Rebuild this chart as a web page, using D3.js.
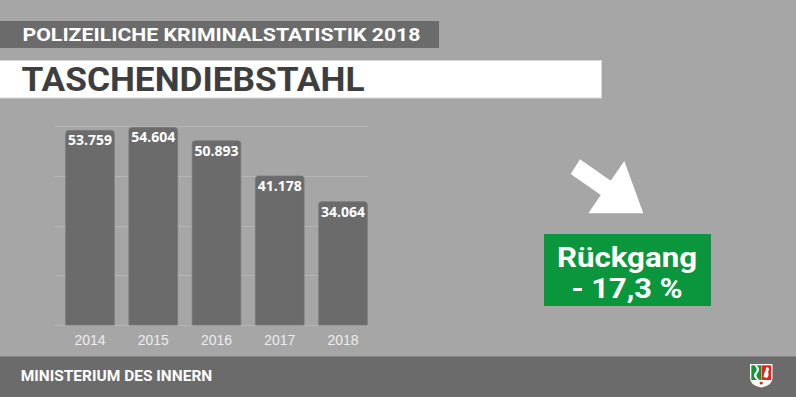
<!DOCTYPE html>
<html>
<head>
<meta charset="utf-8">
<script src="https://cdn.jsdelivr.net/npm/d3@7"></script>
<style>
  html, body { margin: 0; padding: 0; background: #a6a6a6; }
  svg { display: block; }
</style>
</head>
<body>
<div id="chart"></div>
<script>
const width = 796;
const height = 397;

// data
const years = ["2014", "2015", "2016", "2017", "2018"];
const cases = [53759, 54604, 50893, 41178, 34064];
const gridTicks = [0, 13750, 27500, 41250, 55000];

const subtitle = "POLIZEILICHE KRIMINALSTATISTIK 2018";
const title = "TASCHENDIEBSTAHL";
const footer = "MINISTERIUM DES INNERN";
const changeLines = ["Rückgang", "- 17,3 %"];

const fmt = d3.formatLocale({ decimal: ",", thousands: ".", grouping: [3], currency: ["", "€"] }).format(",");

const svg = d3.select("#chart")
    .append("svg")
    .attr("width", width)
    .attr("height", height);

svg.append("rect")
    .attr("width", width)
    .attr("height", height)
    .attr("fill", "#a6a6a6");

// header boxes
svg.append("rect")
    .attr("x", 0).attr("y", 21)
    .attr("width", 439).attr("height", 27)
    .attr("fill", "#6b6b6b");

svg.append("text")
    .attr("x", 22.5).attr("y", 40.7)
    .attr("font-family", "Roboto, sans-serif")
    .attr("font-weight", "bold")
    .attr("font-size", 18.5)
    .attr("fill", "#ffffff")
    .attr("textLength", 398)
    .attr("lengthAdjust", "spacingAndGlyphs")
    .text(subtitle);

svg.append("rect")
    .attr("x", -1).attr("y", 60.5)
    .attr("width", 602.5).attr("height", 37.5)
    .attr("fill", "#ffffff")
    .attr("stroke", "#d8d8d8")
    .attr("stroke-width", 1);

svg.append("text")
    .attr("x", 21.5).attr("y", 90.7)
    .attr("font-family", "Roboto, sans-serif")
    .attr("font-weight", "bold")
    .attr("font-size", 33.5)
    .attr("fill", "#3e3e3e")
    .attr("textLength", 343)
    .attr("lengthAdjust", "spacingAndGlyphs")
    .text(title);

// scales
const x = d3.scaleBand()
    .domain(years)
    .range([58.35, 374.65])
    .paddingInner(0.232)
    .paddingOuter(0.116);

const y = d3.scaleLinear()
    .domain([0, 55000])
    .range([325, 126]);

// gridlines
svg.append("g")
    .selectAll("line")
    .data(gridTicks)
    .enter()
    .append("line")
    .attr("x1", 55)
    .attr("x2", 368)
    .attr("y1", d => Math.round(y(d)) + 0.5)
    .attr("y2", d => Math.round(y(d)) + 0.5)
    .attr("stroke", "#b5b5b5")
    .attr("stroke-width", 1);

// bars with rounded top corners
const r = 3;
const barPath = (x0, y0, w, y1) =>
    `M${x0},${y1} V${y0 + r} Q${x0},${y0} ${x0 + r},${y0} H${x0 + w - r} Q${x0 + w},${y0} ${x0 + w},${y0 + r} V${y1} Z`;

const bars = svg.append("g");
bars.selectAll("path")
    .data(years)
    .enter()
    .append("path")
    .attr("d", (d, i) => barPath(x(d), y(cases[i]), x.bandwidth(), y(0)))
    .attr("fill", "#6b6b6b")
    .attr("stroke", "#767676")
    .attr("stroke-width", 0.8);

bars.selectAll("text")
    .data(years)
    .enter()
    .append("text")
    .attr("x", d => x(d) + x.bandwidth() / 2)
    .attr("y", (d, i) => y(cases[i]) + 15)
    .attr("text-anchor", "middle")
    .attr("font-family", "'Open Sans', sans-serif")
    .attr("font-weight", "bold")
    .attr("font-size", 14)
    .attr("fill", "#ffffff")
    .text((d, i) => fmt(cases[i]));

// x axis labels
const xAxis = svg.append("g")
    .attr("transform", "translate(0,332)")
    .call(d3.axisBottom(x).tickSize(0).tickPadding(0));
xAxis.select(".domain").remove();
xAxis.selectAll("text")
    .attr("dy", "0.95em")
    .attr("y", 0)
    .attr("font-family", "'Liberation Sans', Arial, sans-serif")
    .attr("font-size", 14)
    .attr("fill", "#ececec");

// arrow
svg.append("path")
    .attr("d", "M580,159.3 L610.7,180.8 L624.3,161 L643.3,213.3 L588.3,213.3 L600.8,195.1 L570.7,174 Z")
    .attr("fill", "#ffffff");

// change box
svg.append("rect")
    .attr("x", 544).attr("y", 234)
    .attr("width", 167).attr("height", 72)
    .attr("fill", "#0a963c");

svg.selectAll(".change")
    .data(changeLines)
    .enter()
    .append("text")
    .attr("class", "change")
    .attr("x", 627)
    .attr("y", (d, i) => i === 0 ? 266.5 : 297.5)
    .attr("text-anchor", "middle")
    .attr("font-family", "Roboto, sans-serif")
    .attr("font-weight", "bold")
    .attr("font-size", 27)
    .attr("fill", "#ffffff")
    .attr("textLength", (d, i) => i === 0 ? 140 : 111)
    .attr("lengthAdjust", "spacingAndGlyphs")
    .text(d => d);

// footer
svg.append("rect")
    .attr("x", 0).attr("y", 356)
    .attr("width", width).attr("height", height - 356)
    .attr("fill", "#6b6b6b");
svg.append("line")
    .attr("x1", 0).attr("x2", width)
    .attr("y1", 356.5).attr("y2", 356.5)
    .attr("stroke", "#858585");

svg.append("text")
    .attr("x", 20.7).attr("y", 380.7)
    .attr("font-family", "Roboto, sans-serif")
    .attr("font-weight", "bold")
    .attr("font-size", 15)
    .attr("fill", "#ffffff")
    .attr("textLength", 191.6)
    .attr("lengthAdjust", "spacingAndGlyphs")
    .text(footer);

// coat of arms (simplified)
const logo = svg.append("g").attr("transform", "translate(750,364)");
logo.append("path")
    .attr("d", "M0,0 H22.5 V14 Q22.5,21.5 11.25,23.5 Q0,21.5 0,14 Z")
    .attr("fill", "#ffffff");
logo.append("path")
    .attr("d", "M1.3,1.3 H11 V16 H1.3 Z")
    .attr("fill", "#1a8f3a");
logo.append("path")
    .attr("d", "M11.5,1.3 H21.2 V16 H11.5 Z")
    .attr("fill", "#e2231a");
logo.append("path")
    .attr("d", "M4,1.3 Q9,5 5,9 Q2,12 7,16 L9.5,16 Q4.5,12 7.5,9 Q11,5 6.5,1.3 Z")
    .attr("fill", "#ffffff");
logo.append("path")
    .attr("d", "M13.5,13 Q14,8 16,6 Q15,3.5 17.5,3 Q19.5,4 19,6 Q17.5,7 18.5,9.5 Q19,12.5 17,14 Z")
    .attr("fill", "#ffffff");
logo.append("circle")
    .attr("cx", 11.25).attr("cy", 19)
    .attr("r", 1.6)
    .attr("fill", "#e2231a");
</script>
</body>
</html>
